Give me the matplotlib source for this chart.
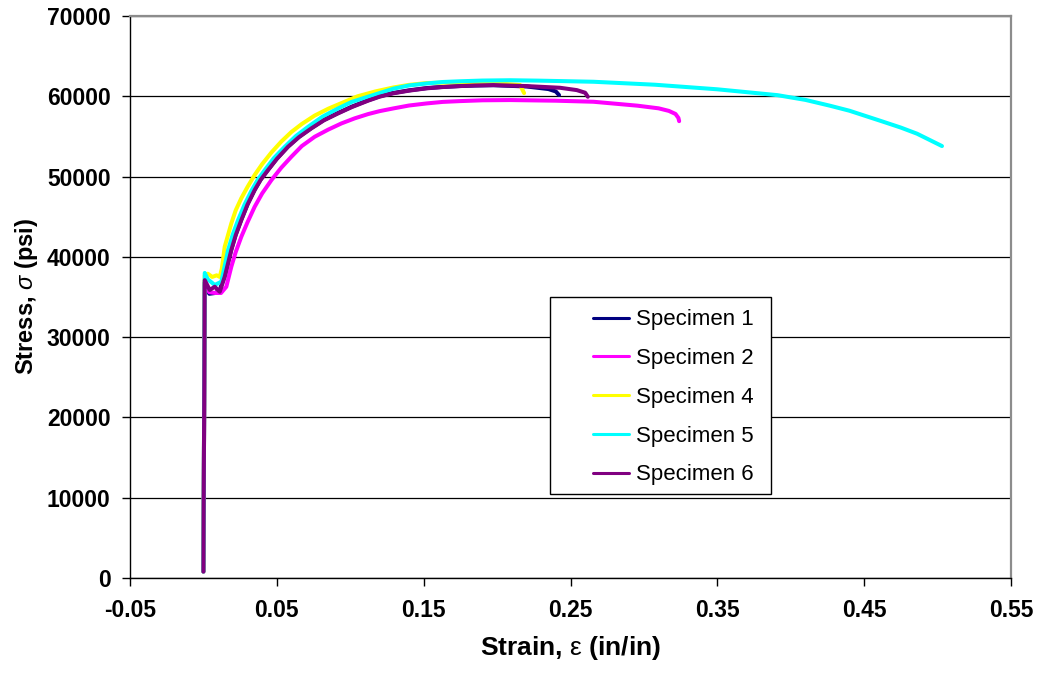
import matplotlib
matplotlib.use('Agg')
import matplotlib.pyplot as plt
from matplotlib.patches import Rectangle
from matplotlib.ticker import FormatStrFormatter

plt.rcParams['font.family'] = ['Liberation Sans', 'DejaVu Sans']
plt.rcParams['axes.unicode_minus'] = False
plt.rcParams['mathtext.fontset'] = 'custom'
plt.rcParams['mathtext.rm'] = 'Liberation Sans'
plt.rcParams['mathtext.it'] = 'Liberation Sans:italic'
plt.rcParams['mathtext.bf'] = 'Liberation Sans:bold'

# tensile test curves
names = ['Specimen 1', 'Specimen 2', 'Specimen 4', 'Specimen 5', 'Specimen 6']
colors = ['#000080', '#FF00FF', '#FFFF00', '#00FFFF', '#800080']

strain_1 = [0.0, 0.0009, 0.004, 0.008, 0.011, 0.0145, 0.019, 0.022, 0.0258, 0.030, 0.0349,
            0.039, 0.044, 0.050, 0.0576, 0.065, 0.0735, 0.082, 0.0917, 0.101, 0.1121,
            0.120, 0.129, 0.140, 0.152, 0.163, 0.1748, 0.185, 0.1975, 0.2202, 0.235,
            0.240, 0.2422]
stress_1 = [800, 36800, 35400, 35500, 35800, 37700, 40950, 42800, 44650, 46550, 48370,
            49650, 50850, 52250, 53750, 54950, 56050, 57050, 57920, 58700, 59500,
            60000, 60400, 60740, 61020, 61170, 61280, 61340, 61380, 61220, 60900,
            60600, 60150]

strain_2 = [0.0, 0.0009, 0.004, 0.008, 0.012, 0.0156, 0.019, 0.022, 0.0258, 0.030, 0.0349,
            0.040, 0.0463, 0.053, 0.0599, 0.067, 0.0758, 0.085, 0.094, 0.103, 0.1121,
            0.120, 0.1294, 0.140, 0.152, 0.163, 0.1748, 0.19, 0.2089, 0.24, 0.2656,
            0.2956, 0.31, 0.317, 0.3215, 0.3235, 0.324]
stress_2 = [800, 36500, 35600, 35500, 35500, 36280, 38770, 40600, 42500, 44300, 46240,
            47900, 49560, 51100, 52470, 53800, 54960, 55850, 56620, 57250, 57780,
            58150, 58490, 58850, 59110, 59300, 59400, 59500, 59530, 59450, 59320,
            58830, 58500, 58180, 57800, 57300, 56900]

strain_4 = [0.0, 0.0009, 0.003, 0.006, 0.009, 0.0111, 0.0125, 0.0145, 0.019, 0.022, 0.0258,
            0.030, 0.0349, 0.040, 0.0463, 0.053, 0.0599, 0.067, 0.0758, 0.085, 0.094,
            0.105, 0.117, 0.1294, 0.140, 0.152, 0.1748, 0.1975, 0.2157, 0.2184]
stress_4 = [800, 37700, 37900, 37500, 37700, 37500, 38500, 41260, 44170, 45800, 47300,
            48700, 50200, 51550, 53000, 54350, 55550, 56550, 57600, 58450, 59150,
            60000, 60600, 61100, 61420, 61650, 61750, 61650, 61400, 60400]

strain_5 = [0.0, 0.0009, 0.003, 0.0077, 0.0122, 0.0168, 0.020, 0.0236, 0.028, 0.0326, 0.037,
            0.0418, 0.048, 0.0554, 0.063, 0.0713, 0.081, 0.0917, 0.101, 0.1121, 0.120,
            0.1294, 0.140, 0.152, 0.163, 0.1748, 0.19, 0.2089, 0.228, 0.2656, 0.3075,
            0.35, 0.391, 0.41, 0.4266, 0.44, 0.4623, 0.475, 0.486, 0.503]
stress_5 = [800, 38000, 37200, 36500, 36900, 40850, 42800, 44580, 46500, 48200, 49600,
            50810, 52300, 53710, 55050, 56200, 57450, 58490, 59300, 59950, 60400,
            60950, 61350, 61600, 61780, 61870, 61960, 62000, 61950, 61810, 61440,
            60870, 60140, 59550, 58830, 58200, 56870, 56100, 55340, 53800]

strain_6 = [0.0, 0.0009, 0.0043, 0.0077, 0.0111, 0.0145, 0.019, 0.022, 0.0258, 0.030, 0.0349,
            0.039, 0.044, 0.050, 0.0576, 0.065, 0.0735, 0.082, 0.0917, 0.101, 0.1121,
            0.120, 0.129, 0.140, 0.152, 0.163, 0.1748, 0.185, 0.1975, 0.2202, 0.2429,
            0.2543, 0.26, 0.2618]
stress_6 = [800, 37100, 35870, 36280, 35650, 37520, 40850, 42700, 44580, 46500, 48320,
            49600, 50810, 52200, 53710, 54900, 56000, 57000, 57870, 58650, 59450,
            59950, 60360, 60700, 60990, 61150, 61270, 61350, 61400, 61270, 61060,
            60770, 60440, 59940]

strains = [strain_1, strain_2, strain_4, strain_5, strain_6]
stresses = [stress_1, stress_2, stress_4, stress_5, stress_6]

x_ticks = [-0.05, 0.05, 0.15, 0.25, 0.35, 0.45, 0.55]
y_ticks = [0, 10000, 20000, 30000, 40000, 50000, 60000, 70000]

fig = plt.figure(figsize=(10.38, 6.77), dpi=100)
ax = fig.add_axes([130 / 1038, 1 - 578 / 677, 881 / 1038, 562 / 677])

for x, y, name, c in zip(strains, stresses, names, colors):
    ax.plot(x, y, color=c, lw=2.9, label=name, solid_joinstyle='round',
            solid_capstyle='round', zorder=3)

ax.set_xlim(-0.05, 0.55)
ax.set_ylim(0, 70000)
ax.set_xticks(x_ticks)
ax.set_yticks(y_ticks)
ax.xaxis.set_major_formatter(FormatStrFormatter('%.2f'))
ax.yaxis.set_major_formatter(FormatStrFormatter('%d'))

ax.grid(axis='y', color='black', lw=0.9, zorder=1)
ax.set_axisbelow(True)
for side in ['left', 'bottom']:
    ax.spines[side].set_color('black')
    ax.spines[side].set_linewidth(1.0)
for side in ['top', 'right']:
    ax.spines[side].set_color('#8c8c8c')
    ax.spines[side].set_linewidth(1.6)

ax.tick_params(axis='x', direction='out', length=6, width=1, color='black',
               labelsize=16.5, pad=9)
ax.tick_params(axis='y', direction='out', length=6, width=1, color='black',
               labelsize=16.5, pad=8)
for lab in ax.get_xticklabels() + ax.get_yticklabels():
    lab.set_fontweight('bold')

ax.set_xlabel('Strain, $\\mathrm{\\varepsilon}$ (in/in)', fontsize=19, fontweight='bold', labelpad=9)
ax.set_ylabel('Stress, $\\sigma$ (psi)', fontsize=17, fontweight='bold', labelpad=5)

# legend box drawn by hand so its size matches the reference
box = Rectangle((0.477, 0.1495), 0.251, 0.3505, transform=ax.transAxes,
                facecolor='white', edgecolor='black', lw=1.0, zorder=4)
ax.add_patch(box)
leg = ax.legend(loc='upper left', bbox_to_anchor=(0.5255, 0.478), frameon=False,
                fontsize=16, handlelength=1.62, handletextpad=0.32, labelspacing=0.8,
                borderpad=0, borderaxespad=0)
leg.set_zorder(5)
for h in leg.get_lines():
    h.set_linewidth(2.2)

fig.savefig('out.png', dpi=100)
